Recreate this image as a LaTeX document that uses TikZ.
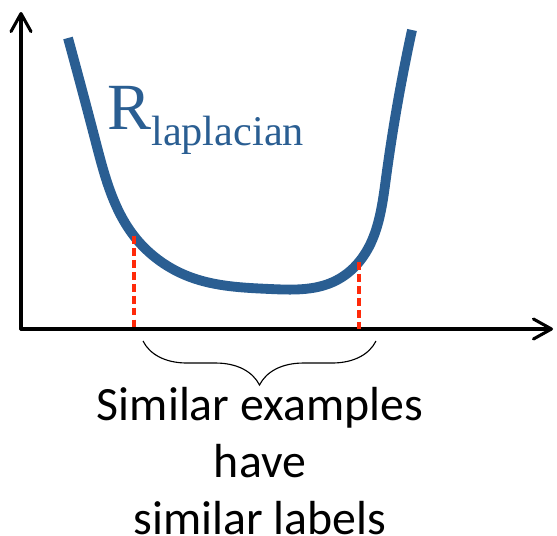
\documentclass[tikz,border=0pt]{standalone}
\usepackage{fontspec}
\setmainfont{Carlito}
\newfontfamily\serifface{Liberation Serif}
\usetikzlibrary{positioning, arrows.meta, decorations.pathreplacing, hobby}
\definecolor{curveblue}{HTML}{2A5E92}
\definecolor{dashred}{HTML}{FF2A0A}

\begin{document}
\begin{tikzpicture}[
    x=0.025cm, y=-0.025cm,
    axis/.style={line width=2.2pt, line cap=round, -{Straight Barb[length=0.45cm, width=0.5cm, line width=2.2pt, round]}},
    risk/.style={line width=7pt, curveblue, line join=round},
    guide/.style={dashred, line width=2.4pt, dash pattern=on 5.5pt off 3pt},
    brace/.style={decorate, decoration={brace, amplitude=1.1cm, mirror}, line width=0.8pt},
    caption/.style={font=\fontsize{34pt}{40.5pt}\selectfont, align=center, inner sep=0pt},
]
\useasboundingbox (0,0) rectangle (557,535);

% Axes
\coordinate (O) at (21,329);
\coordinate (ytop) at (21,12);
\coordinate (xend) at (553,329);
\draw[axis] (O) -- (ytop);
\draw[axis] (O) -- (xend);

% Curve and the two points where the dashed guides meet it
\coordinate (lhit) at (134,236);
\coordinate (rhit) at (359,262);
\draw[risk] (68,38) to[curve through={(96,143) (lhit) (190,277) (270,289) (333,282) (rhit) (386,178)}] (412,30);

\node[curveblue, anchor=base west, inner sep=0pt] (rlap) at (107,129)
    {\serifface\fontsize{46.9pt}{50pt}\selectfont R\raisebox{-0.4cm}{\fontsize{30.1pt}{35pt}\selectfont laplacian}};

% Dashed guides down to the x axis
\coordinate (lfoot) at (O -| lhit);
\coordinate (rfoot) at (O -| rhit);
\draw[guide] (lhit) -- (lfoot);
\draw[guide] (rhit) -- (rfoot);

% Brace and caption
\coordinate (bl) at (143,341);
\coordinate (br) at (376,341);
\draw[brace] (bl) -- (br);
\node[caption, anchor=north] (cap) at (260,387) {Similar examples\\have\\similar labels};

\end{tikzpicture}
\end{document}
